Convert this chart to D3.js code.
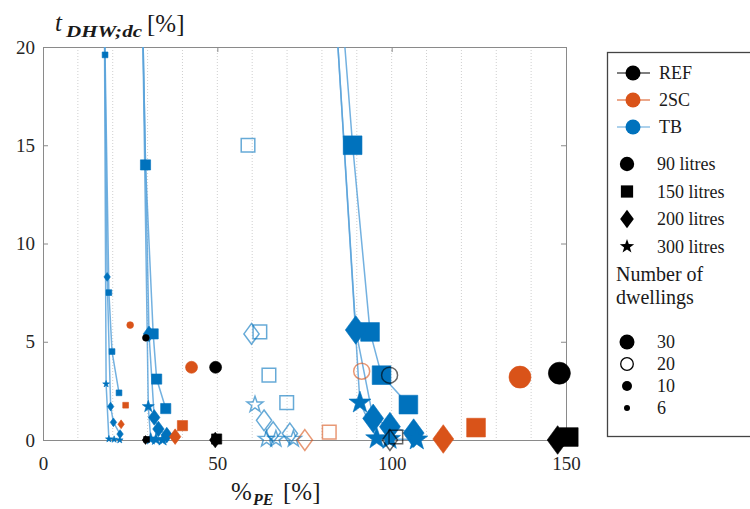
<!DOCTYPE html>
<html>
<head>
<meta charset="utf-8">
<script src="https://cdn.jsdelivr.net/npm/d3@7"></script>
<style>
    body { margin: 0; background: #fff; }
    svg { display: block; }
    svg text { font-family: "Liberation Serif", "Times New Roman", "DejaVu Serif", serif !important; }
</style>
</head>
<body>
<div id="container"></div>
<script>
/* CONSTANTS AND GLOBALS */
const width = 750
const height = 509
const margin = { left: 43, right: 184, top: 47, bottom: 69 }
const serif = "'Liberation Serif', 'Times New Roman', 'DejaVu Serif', serif"

/* DATA */
const systems = ["REF", "2SC", "TB"]
const systemColors = ["#000000", "#D95319", "#0072BD"]
const volumes = [90, 150, 200, 300]
const volumeLabels = ["90 litres", "150 litres", "200 litres", "300 litres"]
const dwellings = [30, 20, 10, 6]
const xTicks = [0, 50, 100, 150]
const yTicks = [0, 5, 10, 15, 20]
const xGrid = [10, 20, 30, 40, 50, 60, 70, 80, 90, 100, 110, 120, 130, 140]

// rows: [dwellings, litres, %PE, tDHW;dc]
const refPoints = [
    [6, 90, 29.5, 5.2], [6, 150, 29.7, 0.03], [6, 200, 29.4, 0],
    [10, 90, 49.5, 3.7], [10, 150, 49.8, 0.05], [10, 200, 49.4, 0],
    [20, 90, 99.4, 3.3], [20, 150, 101.2, 0.15], [20, 200, 99.5, 0],
    [30, 90, 148.1, 3.4], [30, 150, 150.8, 0.15], [30, 200, 147.6, 0]
]

const twoScPoints = [
    [6, 90, 25.0, 5.85], [6, 150, 23.7, 1.77], [6, 200, 22.4, 0.8],
    [10, 90, 42.6, 3.7], [10, 150, 40.0, 0.73], [10, 200, 37.9, 0.17],
    [20, 90, 91.4, 3.5], [20, 150, 82.1, 0.4], [20, 200, 75.1, 0],
    [30, 90, 136.8, 3.2], [30, 150, 124.2, 0.63], [30, 200, 114.8, 0.05]
]

// TB: rows with the same dwellings + litres form one curve (first rows run off the top)
const tbPoints = [
    [6, 150, 17.7, 22], [6, 150, 17.8, 19.6], [6, 150, 18.9, 7.5], [6, 150, 19.8, 4.5], [6, 150, 21.8, 2.4],
    [6, 200, 17.6, 22], [6, 200, 18.4, 8.3], [6, 200, 19.4, 1.7], [6, 200, 20.2, 0.9], [6, 200, 22.1, 0.3],
    [6, 300, 17.6, 22], [6, 300, 18.1, 2.85], [6, 300, 18.9, 0.05], [6, 300, 20.4, 0.03], [6, 300, 22.0, 0],
    [10, 150, 28.5, 22], [10, 150, 29.4, 14.0], [10, 150, 31.6, 5.4], [10, 150, 32.6, 3.1], [10, 150, 35.2, 1.6],
    [10, 200, 28.5, 22], [10, 200, 30.4, 5.4], [10, 200, 31.9, 1.15], [10, 200, 33.1, 0.56], [10, 200, 35.5, 0.25],
    [10, 300, 28.5, 22], [10, 300, 30.2, 1.7], [10, 300, 30.9, 0.05], [10, 300, 32.4, 0.03], [10, 300, 34.3, 0],
    [20, 150, 58.8, 15.0], [20, 150, 62.2, 5.5], [20, 150, 64.8, 3.3], [20, 150, 69.9, 1.9],
    [20, 200, 59.8, 5.4], [20, 200, 63.4, 1.0], [20, 200, 66.0, 0.4], [20, 200, 70.8, 0.33],
    [20, 300, 60.8, 1.8], [20, 300, 64.1, 0.05], [20, 300, 66.8, 0.05], [20, 300, 71.8, 0.05],
    [30, 150, 85.7, 22], [30, 150, 88.8, 15.0], [30, 150, 93.8, 5.5], [30, 150, 97.1, 3.3], [30, 150, 104.8, 1.8],
    [30, 200, 83.9, 22], [30, 200, 89.7, 5.6], [30, 200, 94.7, 1.1], [30, 200, 99.5, 0.68], [30, 200, 106.3, 0.35],
    [30, 300, 83.9, 22], [30, 300, 90.9, 1.9], [30, 300, 95.7, 0.08], [30, 300, 99.4, 0.05], [30, 300, 107.2, 0.02]
]

/* HELPERS */
// marker outline around 0,0 for a "radius" r
function markerPath(shape, r) {
    if (shape === "circle") return `M${r},0A${r},${r},0,1,1,${-r},0A${r},${r},0,1,1,${r},0Z`
    if (shape === "square") { const s = 0.85 * r; return `M${-s},${-s}H${s}V${s}H${-s}Z` }
    if (shape === "diamond") { const w = 0.95 * r, h = 1.3 * r; return `M0,${-h}L${w},0L0,${h}L${-w},0Z` }
    // star
    const R = 1.05 * r, ri = 0.4 * R
    const pts = d3.range(10).map(i => {
        const a = -Math.PI / 2 + i * Math.PI / 5
        const rr = i % 2 ? ri : R
        return [rr * Math.cos(a), rr * Math.sin(a)]
    })
    return "M" + pts.map(p => p.join(",")).join("L") + "Z"
}

/* SCALES */
const xScale = d3.scaleLinear().domain([0, 150]).range([margin.left, width - margin.right])
const yScale = d3.scaleLinear().domain([0, 20]).range([height - margin.bottom, margin.top])
const colorScale = d3.scaleOrdinal().domain(systems).range(systemColors)
const shapeScale = d3.scaleOrdinal().domain(volumes).range(["circle", "square", "diamond", "star"])
const sizeScale = d3.scaleOrdinal().domain(dwellings).range([11, 8, 6, 3.4])
const isOpen = dw => dw === 20

/* HTML ELEMENTS */
const svg = d3.select("#container")
    .append("svg")
    .attr("width", width)
    .attr("height", height)
    .style("font-family", serif)

svg.append("rect").attr("width", width).attr("height", height).attr("fill", "#fff")

svg.append("clipPath").attr("id", "plotClip")
    .append("rect")
    .attr("x", xScale(0)).attr("y", yScale(20))
    .attr("width", xScale(150) - xScale(0)).attr("height", yScale(0) - yScale(20))

// GRID
svg.append("g").selectAll("line")
    .data(xGrid)
    .join("line")
    .attr("x1", d => xScale(d)).attr("x2", d => xScale(d))
    .attr("y1", yScale(20)).attr("y2", yScale(0))
    .attr("stroke", "#cfcfcf")
    .attr("stroke-dasharray", "1,2")

/* AXES */
function styleAxis(g) {
    g.attr("font-family", serif)
    g.select(".domain").attr("stroke", "#8a8a8a")
    g.selectAll(".tick line").attr("stroke", "#8a8a8a")
    g.selectAll(".tick text")
        .attr("fill", "#262626")
        .style("font-size", "19px")
}

svg.append("g")
    .attr("transform", `translate(0,${yScale(0)})`)
    .call(d3.axisBottom(xScale).tickValues(xTicks).tickSizeInner(-5).tickSizeOuter(0).tickPadding(17))
    .call(styleAxis)

svg.append("g")
    .attr("transform", `translate(${xScale(0)},0)`)
    .call(d3.axisLeft(yScale).tickValues(yTicks).tickSizeInner(-5).tickSizeOuter(0).tickPadding(8))
    .call(styleAxis)

// box: top and right with inward ticks
svg.append("g")
    .attr("transform", `translate(0,${yScale(20)})`)
    .call(d3.axisTop(xScale).tickValues(xTicks).tickSizeInner(-5).tickSizeOuter(0).tickFormat(""))
    .call(styleAxis)

svg.append("g")
    .attr("transform", `translate(${xScale(150)},0)`)
    .call(d3.axisRight(yScale).tickValues(yTicks).tickSizeInner(-5).tickSizeOuter(0).tickFormat(""))
    .call(styleAxis)

// TB CURVES
const curves = d3.groups(tbPoints.filter(d => !isOpen(d[0])), d => d[0] + "-" + d[1])
const line = d3.line().x(d => xScale(d[2])).y(d => yScale(d[3]))

svg.append("g")
    .attr("clip-path", "url(#plotClip)")
    .selectAll("path")
    .data(curves)
    .join("path")
    .attr("d", d => line(d[1]))
    .attr("fill", "none")
    .attr("stroke", "#5aa3da")
    .attr("stroke-width", 1.5)
    .attr("stroke-opacity", 0.85)

// MARKERS
function drawMarkers(points, system) {
    svg.append("g")
        .selectAll("path")
        .data(points.filter(d => d[3] <= yScale.domain()[1]))
        .join("path")
        .attr("transform", d => `translate(${xScale(d[2])},${yScale(d[3])})`)
        .attr("d", d => markerPath(shapeScale(d[1]), sizeScale(d[0])))
        .attr("fill", d => isOpen(d[0]) ? "none" : colorScale(system))
        .attr("stroke", colorScale(system))
        .attr("stroke-width", d => isOpen(d[0]) ? 1.5 : 0.6)
        .attr("stroke-opacity", d => isOpen(d[0]) ? 0.6 : 1)
}
drawMarkers(tbPoints, "TB")
drawMarkers(twoScPoints, "2SC")
drawMarkers(refPoints, "REF")

// AXIS LABELS
const yLab = svg.append("g")
yLab.append("text").attr("x", 55).attr("y", 31)
    .style("font-size", "25px").style("font-style", "italic").attr("fill", "#1a1a1a").text("t")
yLab.append("text").attr("x", 66).attr("y", 37)
    .style("font-size", "17px").style("font-style", "italic").style("font-weight", "bold")
    .attr("fill", "#1a1a1a")
    .attr("textLength", 76).attr("lengthAdjust", "spacingAndGlyphs")
    .text("DHW;dc")
yLab.append("text").attr("x", 147).attr("y", 32)
    .style("font-size", "25px").attr("fill", "#1a1a1a").text("[%]")

const xLab = svg.append("g")
xLab.append("text").attr("x", 231).attr("y", 500)
    .style("font-size", "25px").attr("fill", "#1a1a1a").text("%")
xLab.append("text").attr("x", 253).attr("y", 505)
    .style("font-size", "16px").style("font-style", "italic").style("font-weight", "bold")
    .attr("fill", "#1a1a1a").text("PE")
xLab.append("text").attr("x", 283).attr("y", 500)
    .style("font-size", "25px").attr("fill", "#1a1a1a").text("[%]")

/* LEGEND */
const legend = svg.append("g")
legend.append("rect")
    .attr("x", 607.5).attr("y", 52.5)
    .attr("width", 160).attr("height", 384)
    .attr("fill", "#fff")
    .attr("stroke", "#444")
    .attr("stroke-width", 1.3)

// systems: line + circle
const sysRows = legend.selectAll(".sys")
    .data(systems)
    .join("g")
    .attr("transform", (d, i) => `translate(0,${73 + i * 27})`)
sysRows.append("line")
    .attr("x1", 617).attr("x2", 650)
    .attr("stroke", d => d === "TB" ? "#5aa3da" : colorScale(d))
    .attr("stroke-width", 1.2)
sysRows.append("path")
    .attr("transform", "translate(633,0)")
    .attr("d", markerPath("circle", 7.5))
    .attr("fill", d => colorScale(d))
sysRows.append("text")
    .attr("x", 659).attr("dy", "0.35em")
    .style("font-size", "18px").attr("fill", "#1a1a1a")
    .text(d => d)

// tank volumes: shapes
const volRows = legend.selectAll(".vol")
    .data(volumes)
    .join("g")
    .attr("transform", (d, i) => `translate(0,${164 + i * 27.5})`)
volRows.append("path")
    .attr("transform", "translate(627,0)")
    .attr("d", d => markerPath(shapeScale(d), 7.2))
    .attr("fill", "#000")
volRows.append("text")
    .attr("x", 657).attr("dy", "0.35em")
    .style("font-size", "18px").attr("fill", "#1a1a1a")
    .text((d, i) => volumeLabels[i])

legend.append("text").attr("x", 616).attr("y", 281)
    .style("font-size", "20px").attr("fill", "#1a1a1a").text("Number of")
legend.append("text").attr("x", 616).attr("y", 304)
    .style("font-size", "20px").attr("fill", "#1a1a1a").text("dwellings")

// dwellings: marker size / fill
const dwRadius = d3.scaleOrdinal().domain(dwellings).range([7.5, 6.3, 5, 3])
const dwRows = legend.selectAll(".dw")
    .data(dwellings)
    .join("g")
    .attr("transform", (d, i) => `translate(0,${342 + i * 22})`)
dwRows.append("path")
    .attr("transform", "translate(627,0)")
    .attr("d", d => markerPath("circle", dwRadius(d)))
    .attr("fill", d => isOpen(d) ? "none" : "#000")
    .attr("stroke", "#000")
    .attr("stroke-width", d => isOpen(d) ? 1.3 : 0)
dwRows.append("text")
    .attr("x", 657).attr("dy", "0.35em")
    .style("font-size", "18px").attr("fill", "#1a1a1a")
    .text(d => d)
</script>
</body>
</html>
